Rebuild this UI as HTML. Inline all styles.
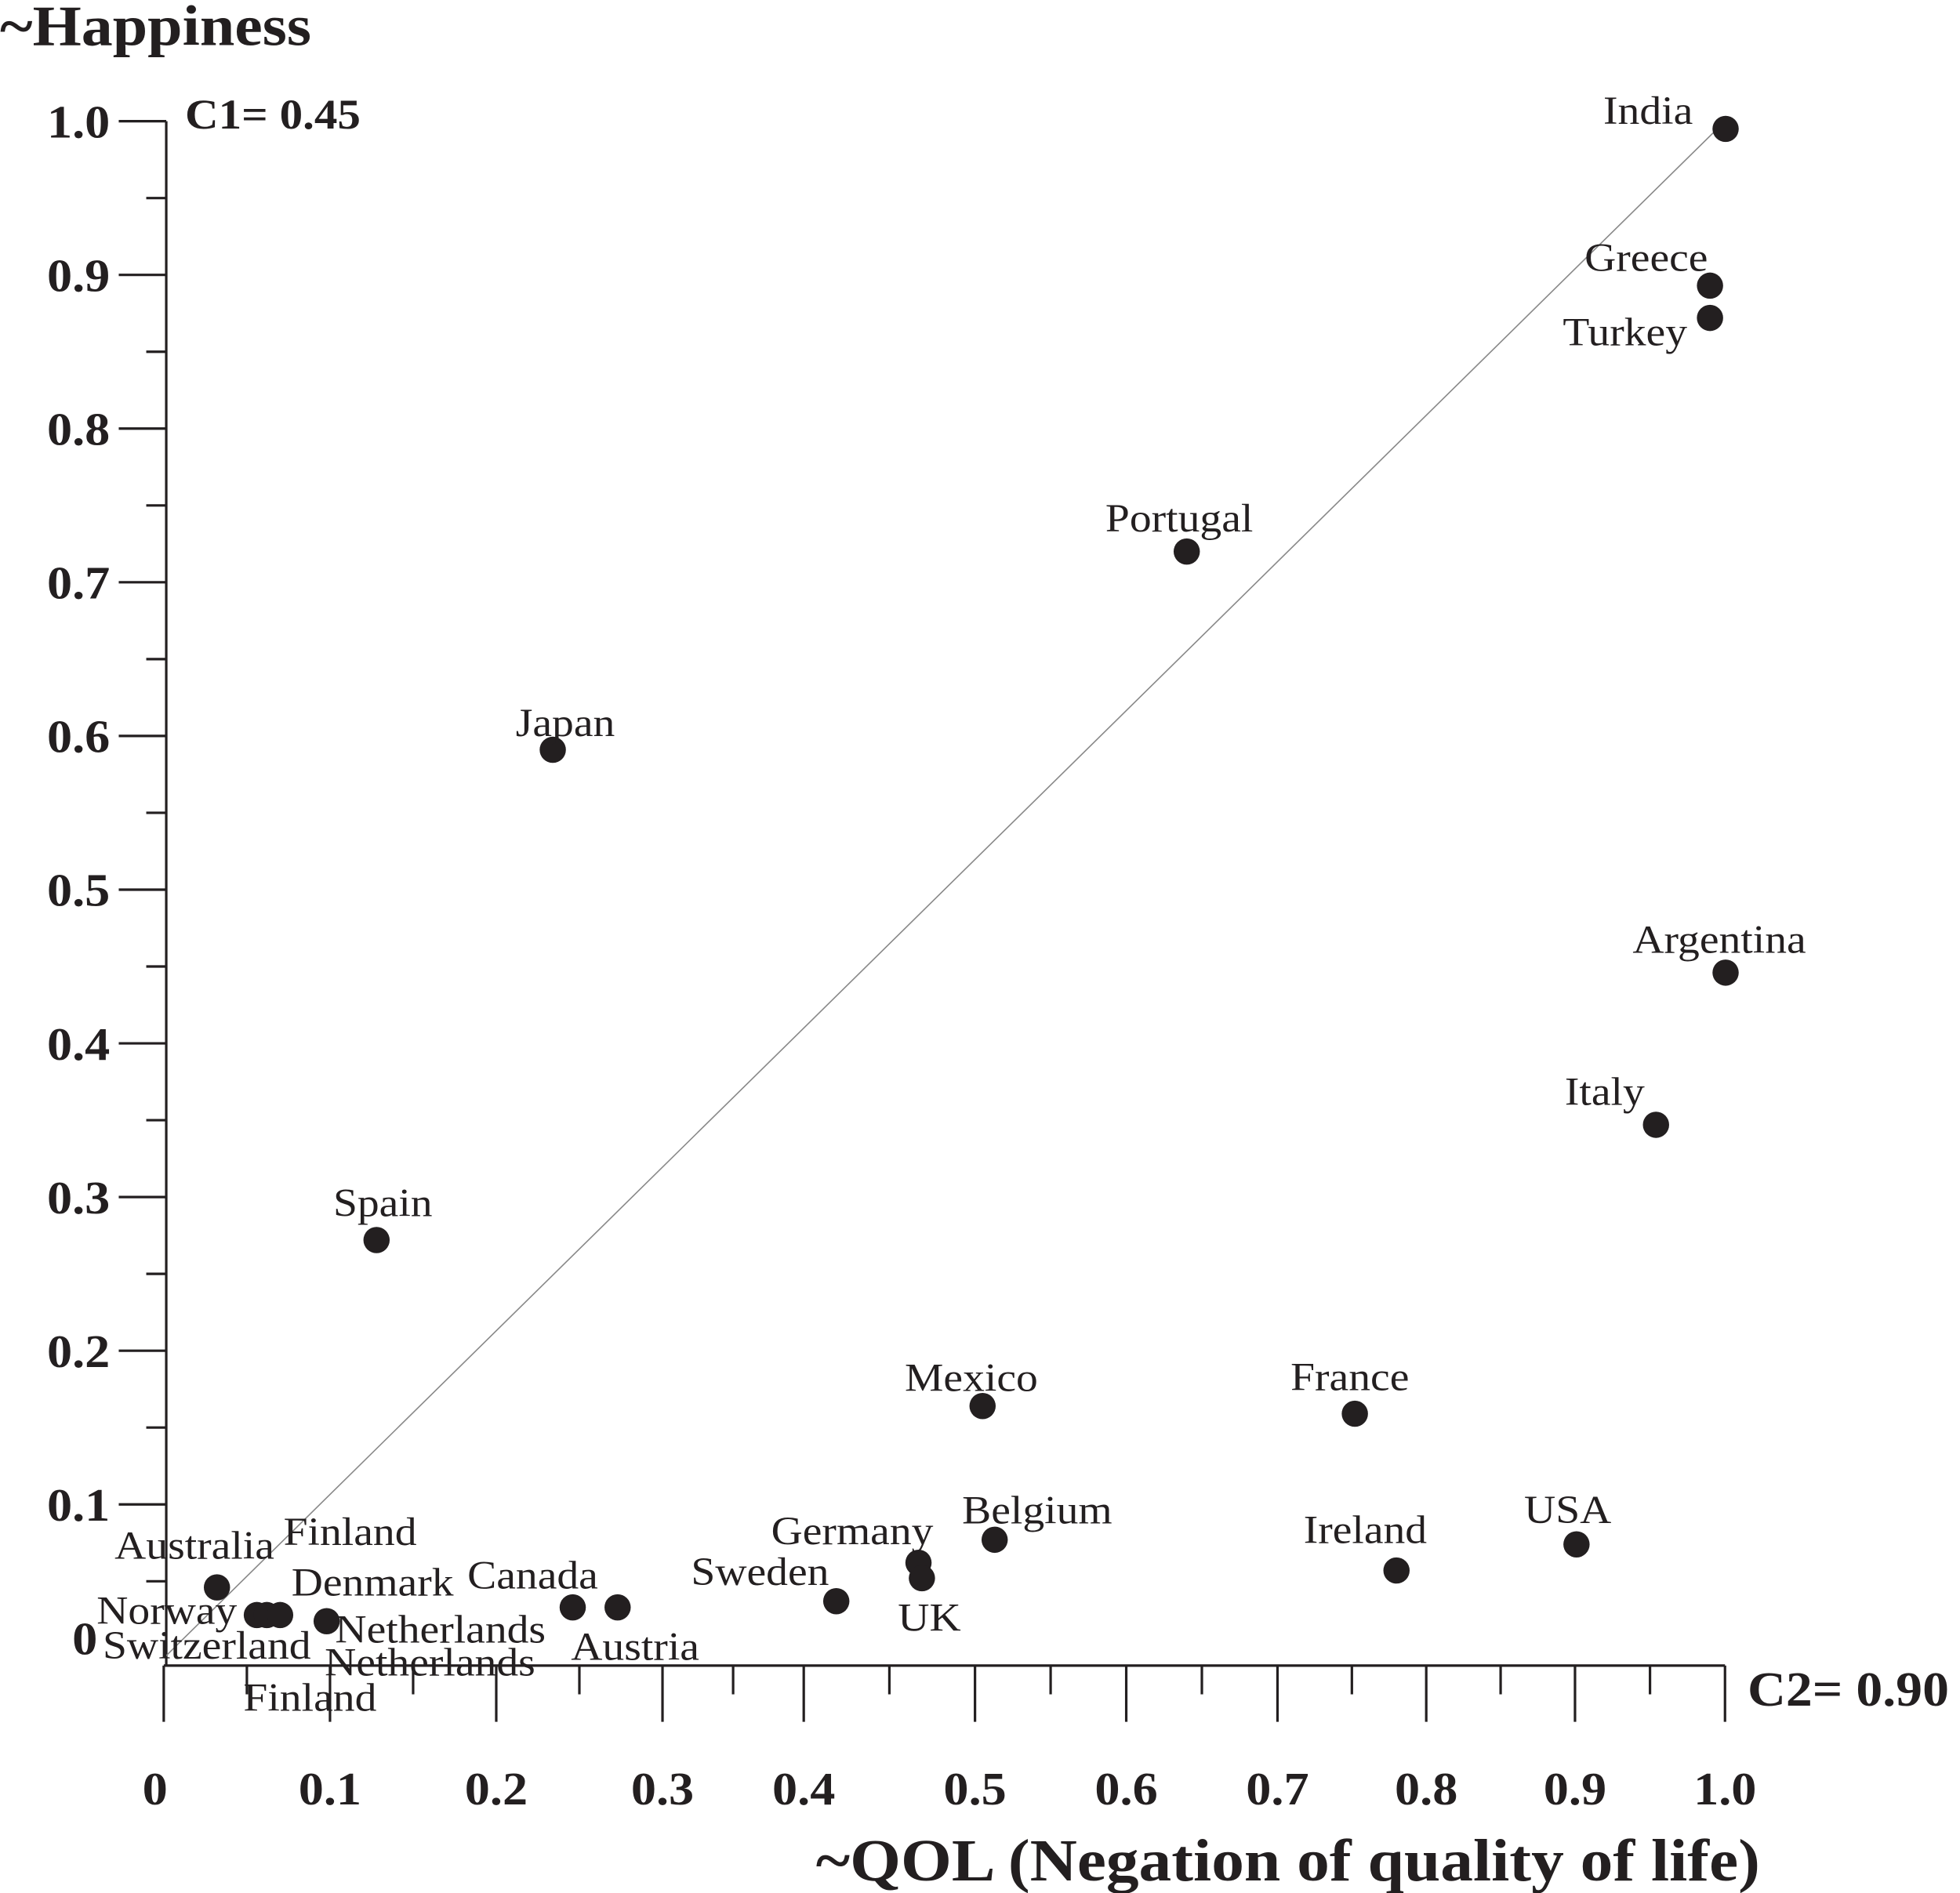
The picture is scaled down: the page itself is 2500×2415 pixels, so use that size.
<!DOCTYPE html>
<html><head><meta charset="utf-8">
<style>
html,body{margin:0;padding:0;background:#fff;}
svg{display:block;}
text{font-family:"Liberation Serif",serif;fill:#231f20;}
.b{font-weight:bold;}
</style></head>
<body>
<svg id="chart" width="2500" height="2415" viewBox="0 0 1568 1515" preserveAspectRatio="none" xmlns="http://www.w3.org/2000/svg">
<text class="b" x="0" y="36" font-size="46">~Happiness</text>
<text class="b" x="148" y="103" font-size="34">C1= 0.45</text>
<text class="b" x="1398" y="1365" font-size="39">C2= 0.90</text>
<text class="b" x="1408" y="1505" font-size="48" text-anchor="end">~QOL (Negation of quality of life)</text>
<g id="axes"></g>
<g id="marks"></g>
</svg>
<script>
const countries=["India","Greece","Turkey","Portugal","Japan","Argentina","Italy","Spain","Mexico","France","Belgium","Ireland","USA","Germany","UK","Sweden","Canada","Austria","Australia","Norway","Switzerland","Finland","Netherlands"];
const qolValues=[1.004,0.990,0.990,0.640,0.234,1.004,0.954,0.128,0.505,0.752,0.513,0.780,0.901,0.467,0.469,0.419,0.246,0.273,0.032,0.056,0.062,0.070,0.098];
const happinessValues=[0.995,0.893,0.872,0.720,0.591,0.446,0.347,0.272,0.164,0.159,0.077,0.057,0.074,0.062,0.052,0.037,0.033,0.033,0.046,0.028,0.028,0.028,0.024];
const xTickValues=[0,0.1,0.2,0.3,0.4,0.5,0.6,0.7,0.8,0.9,1.0];
const xTickLabels=["0","0.1","0.2","0.3","0.4","0.5","0.6","0.7","0.8","0.9","1.0"];
const yTickValues=[0.1,0.2,0.3,0.4,0.5,0.6,0.7,0.8,0.9,1.0];
const yTickLabels=["0.1","0.2","0.3","0.4","0.5","0.6","0.7","0.8","0.9","1.0"];
const extraLabels=[["Denmark",298,1266],["Finland",248,1358],["Netherlands",344,1330]];
const labelOffsets={India:[-62,-15],Greece:[-51,-23],Turkey:[-68,11],Portugal:[-6,-27],Japan:[10,-22],Argentina:[-5,-27],Italy:[-41,-27],Spain:[5,-30],Mexico:[-9,-23],France:[-4,-30],Belgium:[34,-24],Ireland:[-25,-33],USA:[-7,-28],Germany:[-53,-26],UK:[6,31],Sweden:[-61,-24],Canada:[-32,-26],Austria:[14,31],Australia:[-18,-34],Norway:[-72,-4],Switzerland:[-48,24],Finland:[56,-67],Netherlands:[91,6]};
const NS="http://www.w3.org/2000/svg";
const xPix=[131,264,397,530,643,780,901,1022,1141,1260,1380];
function xs(v){
  if(v>=1){return 1380+(v-1)*120;}
  const i=Math.min(9,Math.floor(v*10));
  const f=(v-xTickValues[i])/0.1;
  return xPix[i]+f*(xPix[i+1]-xPix[i]);
}
function ys(v){return 1327-v*1230;}
function el(tag,attrs,parent){const e=document.createElementNS(NS,tag);for(const k in attrs)e.setAttribute(k,attrs[k]);parent.appendChild(e);return e;}
const axes=document.getElementById('axes'), marks=document.getElementById('marks');
let a=el('line',{x1:133,y1:97,x2:133,y2:1333,stroke:'#231f20','stroke-width':2},axes);


a=el('line',{x1:131,y1:1333,x2:1380,y2:1333,stroke:'#231f20','stroke-width':2},axes);


a=el('line',{x1:xs(0),y1:ys(0),x2:xs(1),y2:ys(1),stroke:'#888','stroke-width':1},axes);


yTickValues.forEach((v,i)=>{
  const t=el('line',{x1:95,y1:ys(v),x2:133,y2:ys(v),stroke:'#231f20','stroke-width':2},axes);
  
  
  const m=el('line',{x1:117,y1:ys(v-0.05),x2:133,y2:ys(v-0.05),stroke:'#231f20','stroke-width':2},axes);
  
  
  const l=el('text',{x:88,y:ys(v)+13,'font-size':37,'text-anchor':'end','class':'b'},axes);
  l.textContent=yTickLabels[i];
  
  
});
let z=el('text',{x:78,y:1324,'font-size':37,'text-anchor':'end','class':'b'},axes);
z.textContent="0";


xTickValues.forEach((v,i)=>{
  const t=el('line',{x1:xs(v),y1:1333,x2:xs(v),y2:1378,stroke:'#231f20','stroke-width':2},axes);
  
  
  if(i<10){const mx=xs(v+0.05);
    const m=el('line',{x1:mx,y1:1333,x2:mx,y2:1356,stroke:'#231f20','stroke-width':2},axes);
    
    }
  const l=el('text',{x:i==0?124:xs(v),y:1444,'font-size':37,'text-anchor':'middle','class':'b'},axes);
  l.textContent=xTickLabels[i];
  
  
});
countries.forEach((c,i)=>{
  const cx=xs(qolValues[i]), cy=ys(happinessValues[i]);
  const p=el('circle',{cx:cx,cy:cy,r:10.5,fill:'#231f20'},marks);
  
  
  const o=labelOffsets[c]||[0,-20];
  const t=el('text',{x:cx+o[0],y:cy+o[1]+11,'font-size':32,'text-anchor':'middle'},marks);
  t.textContent=c;
  
  
});
extraLabels.forEach(e=>{
  const t=el('text',{x:e[1],y:e[2]+11,'font-size':32,'text-anchor':'middle'},marks);
  t.textContent=e[0];
  
  
});
document.querySelectorAll('#chart text').forEach(t=>{
  const w=t.getComputedTextLength();
  t.setAttribute('textLength',(w*1.09).toFixed(1));
  t.setAttribute('lengthAdjust','spacingAndGlyphs');
});
</script>
</body></html>
